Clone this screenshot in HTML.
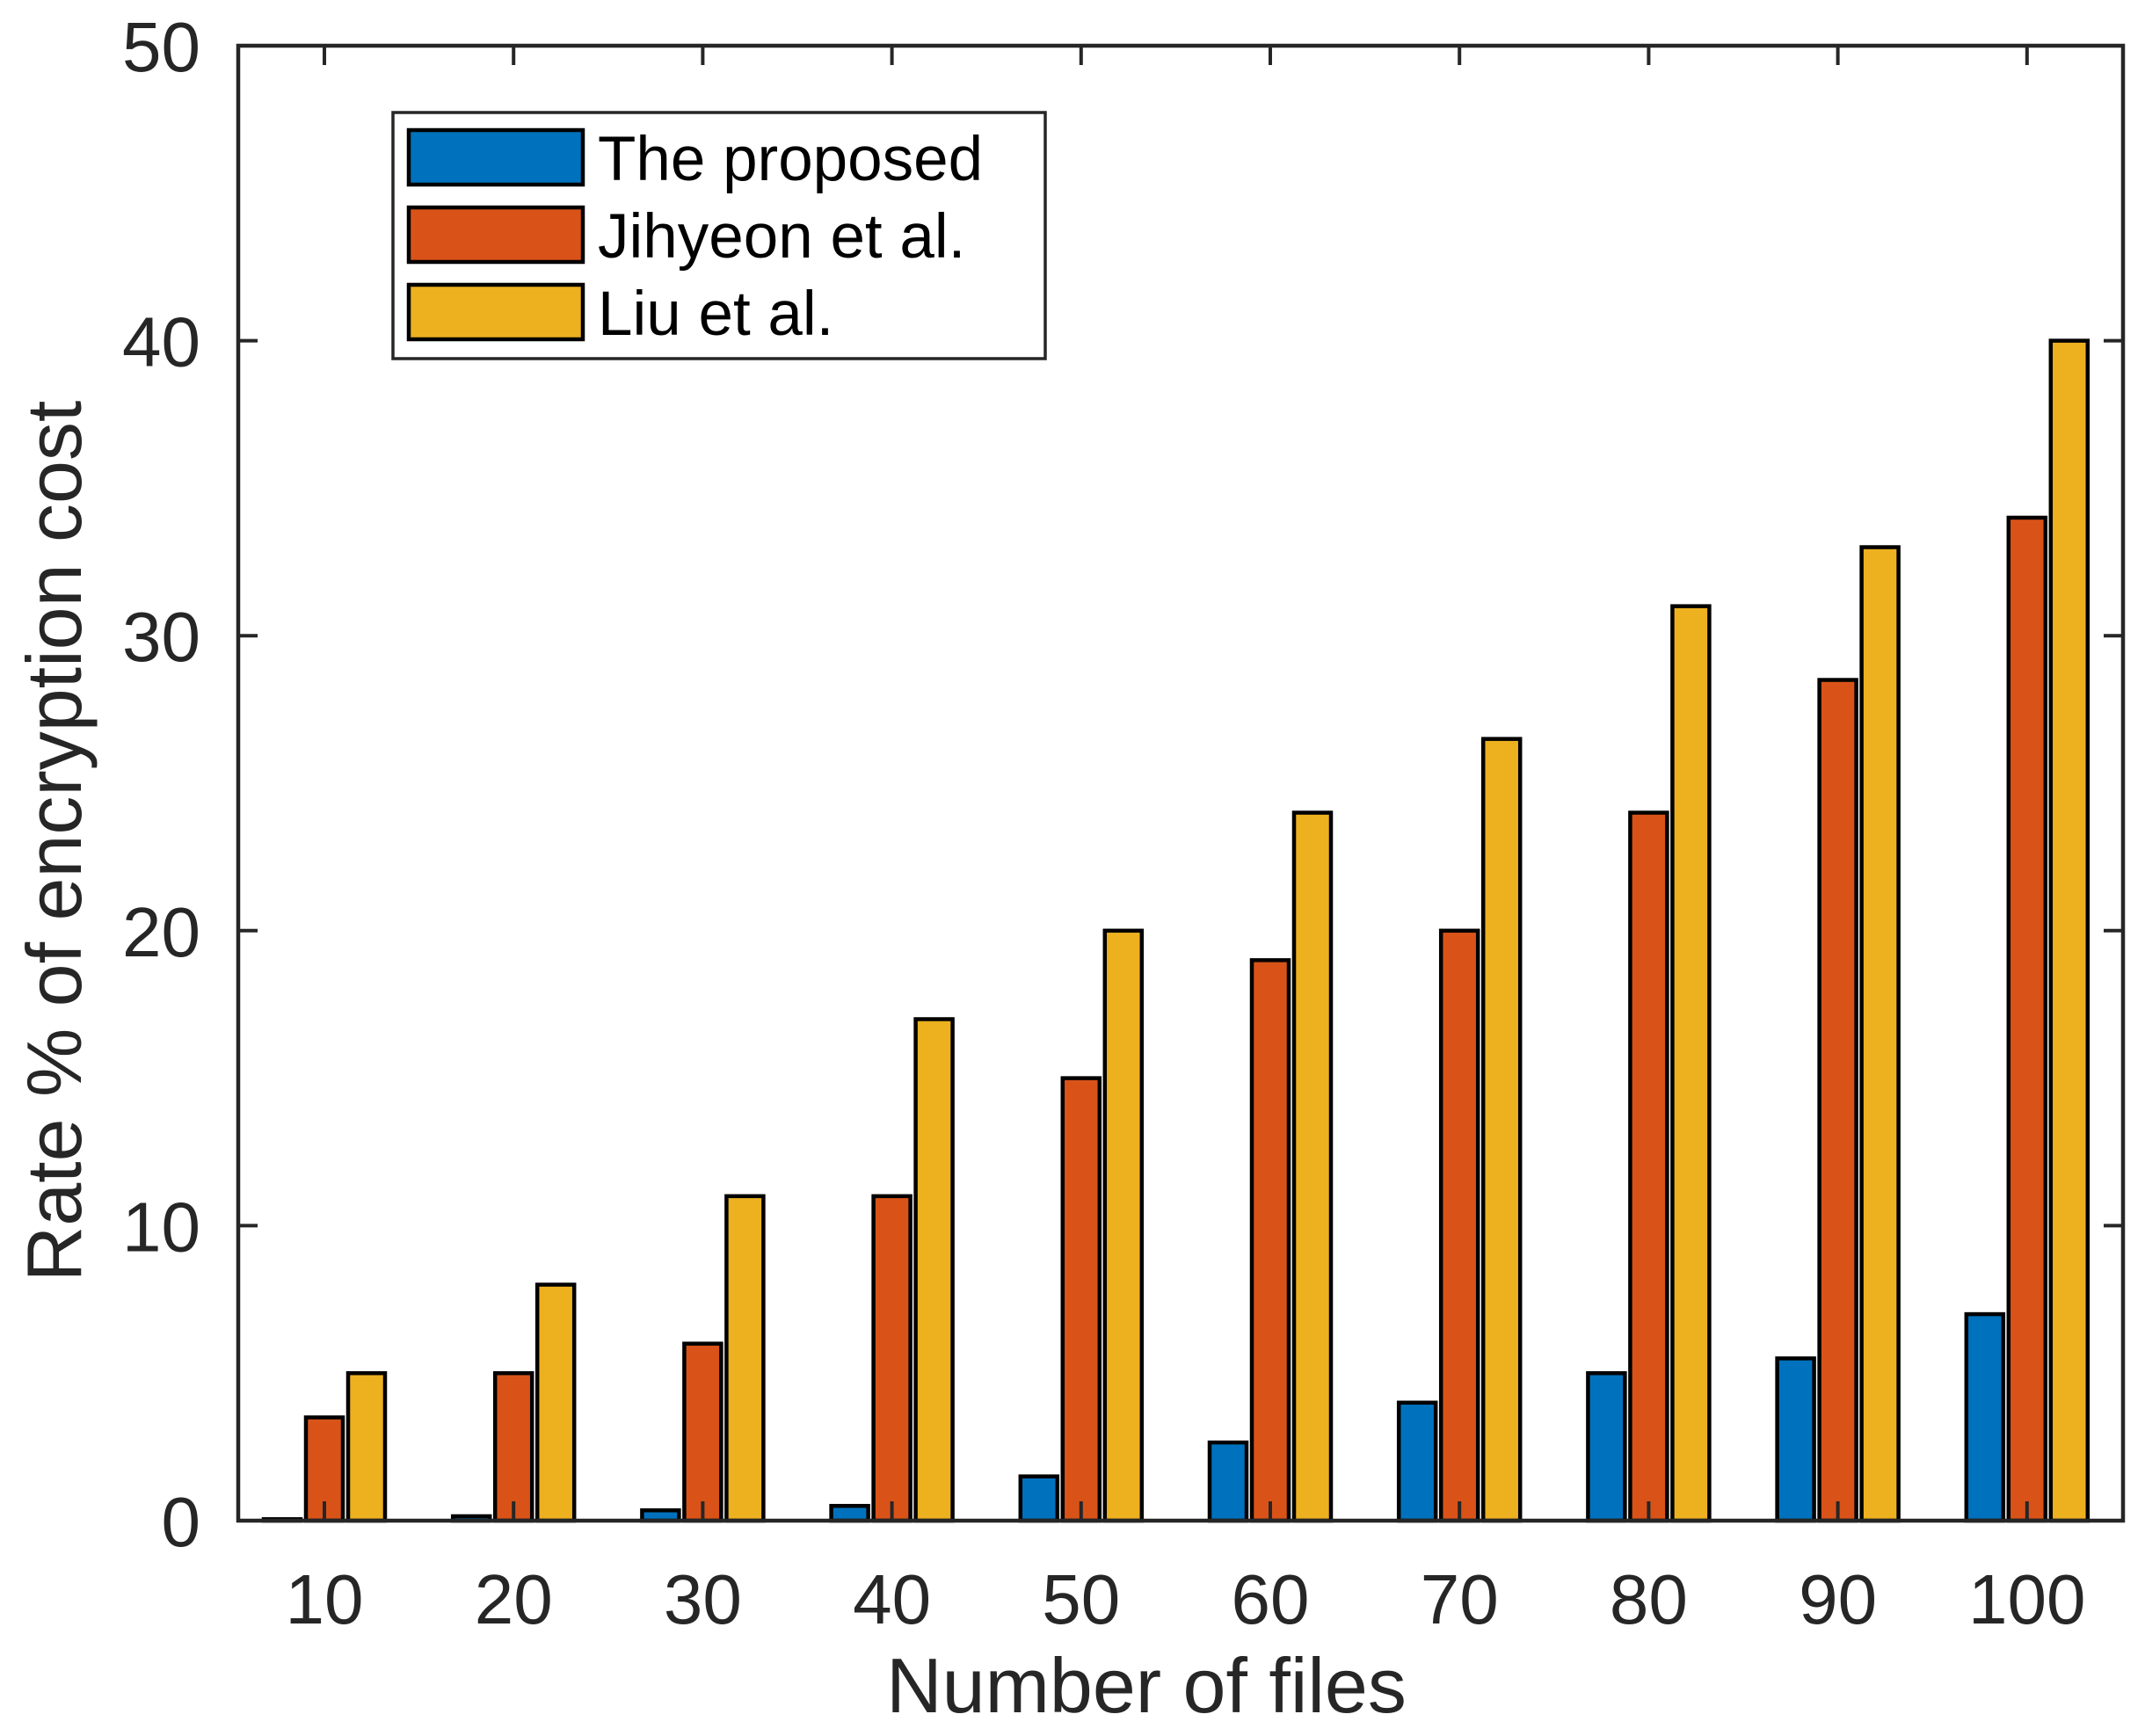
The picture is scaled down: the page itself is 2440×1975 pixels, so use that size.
<!DOCTYPE html>
<html><head><meta charset="utf-8"><style>
html,body{margin:0;padding:0;background:#fff;}
svg{display:block;font-family:"Liberation Sans",Arial,sans-serif;}
</style></head><body>
<svg id="chart" width="2440" height="1975" viewBox="0 0 2440 1975" xmlns="http://www.w3.org/2000/svg">
<rect x="0" y="0" width="2440" height="1975" fill="#fff"/>
<g id="bars"></g>
<g id="axes"></g>
<text x="1304" y="1948" font-size="88" text-anchor="middle" fill="#262626">Number of files</text>
<text transform="translate(92,957) rotate(-90)" font-size="88" text-anchor="middle" fill="#262626">Rate % of encryption cost</text>
<g>
<rect x="447" y="128" width="742" height="280" fill="#fff" stroke="#262626" stroke-width="3.5"/>
<g>
<rect x="465" y="148" width="198" height="62" fill="#0072BD" stroke="#000" stroke-width="4.5"/>
<text x="680" y="205" font-size="71" fill="#000">The proposed</text></g>
<g>
<rect x="465" y="236" width="198" height="62" fill="#D95319" stroke="#000" stroke-width="4.5"/>
<text x="680" y="293" font-size="71" fill="#000">Jihyeon et al.</text></g>
<g>
<rect x="465" y="324" width="198" height="62" fill="#EDB120" stroke="#000" stroke-width="4.5"/>
<text x="680" y="381" font-size="71" fill="#000">Liu et al.</text></g>
</g>
</svg>
<script>
const categories = [10,20,30,40,50,60,70,80,90,100];
const proposed = [0.05,0.15,0.35,0.5,1.5,2.65,4,5,5.5,7];
const jihyeon = [3.5,5,6,11,15,19,20,24,28.5,34];
const liu = [5,8,11,17,20,24,26.5,31,33,40];
const yTicks = [0,10,20,30,40,50];

const L=271,R=2415,T=52,B=1730;
const xs=v=>369+(v-10)*21.52;
const ys=v=>B-(v/50)*(B-T);
const NS="http://www.w3.org/2000/svg";
const bars=document.getElementById('bars');
const axes=document.getElementById('axes');
function mk(tag,attrs,parent){const e=document.createElementNS(NS,tag);for(const k in attrs)e.setAttribute(k,attrs[k]);parent.appendChild(e);return e;}
const series=[[proposed,'#0072BD',-48,'proposed'],[jihyeon,'#D95319',0,'jihyeon'],[liu,'#EDB120',48,'liu']];
series.forEach(([vals,col,off,nm])=>{
  vals.forEach((v,i)=>{
    const cx=xs(categories[i])+off, w=42;
    const r=mk('rect',{x:cx-w/2,y:ys(v),width:w,height:Math.max(B-ys(v),0.5),fill:col,stroke:'#000','stroke-width':4.5},bars);
    
    
  });
});
const box=mk('rect',{x:L,y:T,width:R-L,height:B-T,fill:'none',stroke:'#262626','stroke-width':4.5},axes);


categories.forEach(c=>{
  const x=xs(c);
  mk('line',{x1:x,y1:B,x2:x,y2:B-22,stroke:'#262626','stroke-width':4},axes);
  mk('line',{x1:x,y1:T,x2:x,y2:T+22,stroke:'#262626','stroke-width':4},axes);
  const t=mk('text',{x:x,y:1847,'font-size':80,'text-anchor':'middle',fill:'#262626'},axes);
  t.textContent=c;
  
  
});
yTicks.forEach(v=>{
  const y=ys(v);
  mk('line',{x1:L,y1:y,x2:L+22,y2:y,stroke:'#262626','stroke-width':4},axes);
  mk('line',{x1:R,y1:y,x2:R-22,y2:y,stroke:'#262626','stroke-width':4},axes);
  const t=mk('text',{x:228,y:y+29,'font-size':80,'text-anchor':'end',fill:'#262626'},axes);
  t.textContent=v;
  
  
});
</script>
</body></html>
